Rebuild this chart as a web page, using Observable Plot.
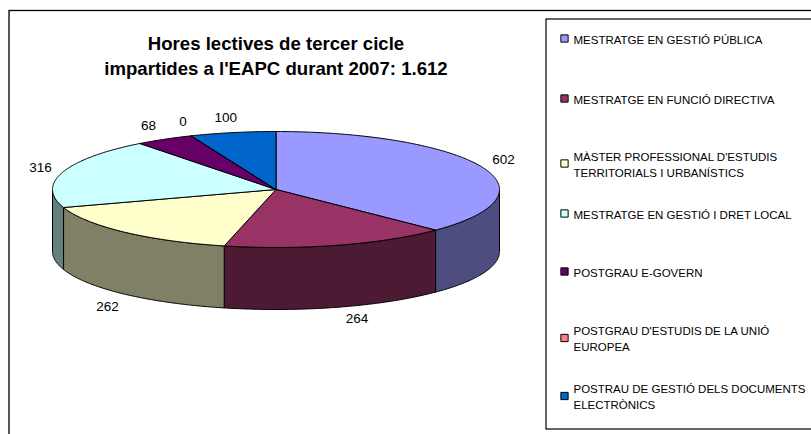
<!DOCTYPE html>
<html lang="ca">
<head>
<meta charset="utf-8">
<style>html,body{margin:0;padding:0;background:#fff;overflow:hidden}svg{display:block}</style>
<script src="https://cdn.jsdelivr.net/npm/d3@7"></script>
<script src="https://cdn.jsdelivr.net/npm/@observablehq/plot@0.6"></script>
</head>
<body>
<div id="chart"></div>
<script>
const titleText = "Hores lectives de tercer cicle\nimpartides a l'EAPC durant 2007: 1.612";
const programs = [
  "MESTRATGE EN GESTIÓ PÚBLICA",
  "MESTRATGE EN FUNCIÓ DIRECTIVA",
  "MÀSTER PROFESSIONAL D'ESTUDIS\nTERRITORIALS I URBANÍSTICS",
  "MESTRATGE EN GESTIÓ I DRET LOCAL",
  "POSTGRAU E-GOVERN",
  "POSTGRAU D'ESTUDIS DE LA UNIÓ\nEUROPEA",
  "POSTRAU DE GESTIÓ DELS DOCUMENTS\nELECTRÒNICS"
];
const hours = [602, 264, 262, 316, 68, 0, 100];
const colors = ["#9999FF", "#993366", "#FFFFCC", "#CCFFFF", "#660066", "#FF8080", "#0066CC"];

// Layout (not data)
const labelNudges = [[21.5, -7.5], [19, 73], [-17, 75], [-22, -5], [-16, -14], [-8, -14], [-7, -15]];
const legendY = [38, 98, 163, 213, 271, 337.5, 395.5];
const depth = 62 / 58;

const total = d3.sum(hours);
const cum = d3.cumsum(hours);
const slices = hours.map((v, i) => ({
  i, v, a0: ((cum[i] - v) / total) * 2 * Math.PI, a1: (cum[i] / total) * 2 * Math.PI
}));

const arc = (a0, a1) => {
  const n = Math.max(1, Math.ceil(Math.abs(a1 - a0) / 0.01));
  return d3.range(n + 1).map(k => a0 + (a1 - a0) * k / n);
};

const topRows = slices.flatMap(s => [
  {s: s.i, x: 0, y: 0},
  ...arc(s.a0, s.a1).map(a => ({s: s.i, x: Math.sin(a), y: Math.cos(a)})),
  {s: s.i, x: 0, y: 0}
].map(d => ({...d, fill: colors[s.i]})));

const halfTone = c => { const r = d3.rgb(c); return d3.rgb(r.r / 2, r.g / 2, r.b / 2).formatHex(); };
const wallRows = slices.flatMap(s => {
  const a0 = Math.max(s.a0, Math.PI / 2), a1 = Math.min(s.a1, 3 * Math.PI / 2);
  if (a1 <= a0) return [];
  const pts = arc(a0, a1);
  const upper = pts.map(a => ({x: Math.sin(a), y: Math.cos(a)}));
  const lower = pts.slice().reverse().map(a => ({x: Math.sin(a), y: Math.cos(a) - depth}));
  return [...upper, ...lower, upper[0]].map(d => ({...d, s: s.i, fill: halfTone(colors[s.i])}));
});

const font = "'Liberation Sans', Arial, sans-serif";
const polygon = rows => Plot.line(rows, {
  x: "x", y: "y", z: "s", fill: "fill", stroke: "#000", strokeWidth: 1, strokeLinejoin: "round"
});

const plot = Plot.plot({
  width: 811, height: 434,
  margin: 0,
  x: {domain: [-1, 1], range: [52, 499], axis: null},
  y: {domain: [-1, 1], range: [247, 131], axis: null},
  color: {type: "identity"},
  style: {fontFamily: font, background: "#fff", overflow: "visible"},
  marks: [
    Plot.frame({stroke: "#000", strokeWidth: 1.3, insetLeft: 8.5, insetTop: 10, insetRight: -10, insetBottom: -10}),
    polygon(wallRows),
    polygon(topRows),
    ...slices.map((s, i) => {
      const mid = (s.a0 + s.a1) / 2;
      return Plot.text([s.v], {
        x: () => Math.sin(mid), y: () => Math.cos(mid), text: d => String(d),
        dx: labelNudges[i][0], dy: labelNudges[i][1],
        fontSize: 13.5, fill: "#000"
      });
    }),
    Plot.text([titleText], {
      x: () => 0, frameAnchor: "top", dy: 54, lineAnchor: "middle", lineHeight: 1.34,
      fontSize: 18.6, fontWeight: "bold", fill: "#000", textAnchor: "middle"
    }),
    Plot.frame({fill: "#fff", stroke: "#000", strokeWidth: 1.2, insetLeft: 545.5, insetTop: 18.5, insetRight: -10, insetBottom: 5.5}),
    ...programs.flatMap((p, i) => [
      Plot.dot([p], {
        frameAnchor: "top-left", dx: 564, dy: legendY[i], symbol: "square", r: 4.1,
        fill: colors[i], stroke: "#000", strokeWidth: 1
      }),
      Plot.text([p], {
        frameAnchor: "top-left", dx: 573, dy: legendY[i], lineAnchor: "middle", lineHeight: 1.43,
        textAnchor: "start", fontSize: 11.5, fill: "#000"
      })
    ])
  ]
});
document.getElementById("chart").append(plot);
</script>
</body>
</html>
